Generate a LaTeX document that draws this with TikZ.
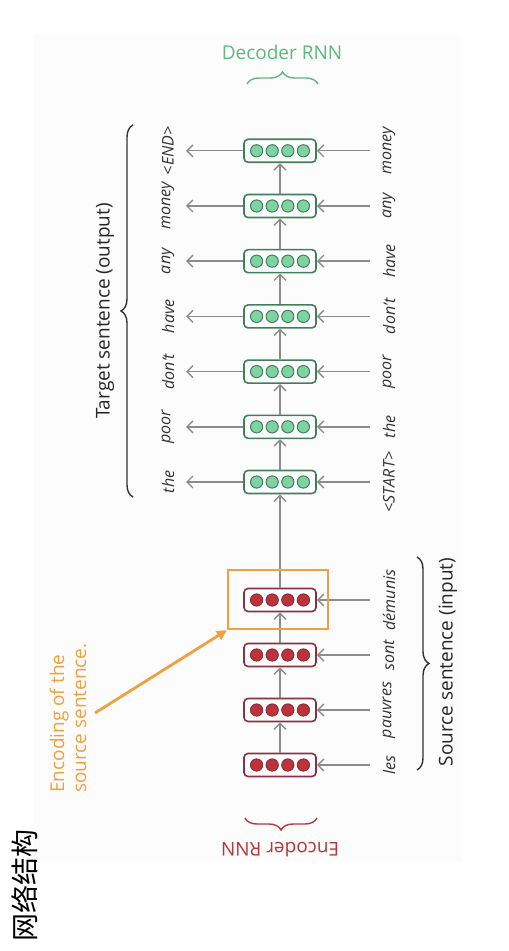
\documentclass[tikz,border=0pt]{standalone}
\usepackage{fontspec}
\setmainfont{Open Sans}
\newfontfamily\cjk{Noto Sans CJK SC}
\usetikzlibrary{decorations.pathreplacing, arrows.meta}
\definecolor{encred}{HTML}{BE3238}
\definecolor{encline}{HTML}{8A3040}
\definecolor{decgreen}{HTML}{7ED3A0}
\definecolor{decline}{HTML}{3F7F5C}
\definecolor{dectext}{HTML}{5DB97C}
\definecolor{enctext}{HTML}{B3383C}
\definecolor{hlorange}{HTML}{F0A040}
\definecolor{flow}{HTML}{8C8C8C}
\begin{document}
\begin{tikzpicture}[x=0.5pt, y=-0.5pt,
  cell/.style={draw, rounded corners=2pt, line width=0.8pt, fill=white, minimum width=36pt, minimum height=11.5pt, inner sep=0pt},
  flowarrow/.style={draw=flow, line width=0.7pt, -{Straight Barb[length=3pt, width=6pt]}},
  word/.style={rotate=90, font=\fontsize{8}{9}\selectfont\itshape, text=black!80},
  title/.style={font=\fontsize{9.5}{11}\selectfont},
  bracket/.style={decorate, decoration={brace, amplitude=6pt}, line width=0.7pt}]
  \useasboundingbox (0,0) rectangle (508,951);
  \fill [black!1.2] (33,35) rectangle (462,862);
  % encoder cells
  \foreach \i in {1,...,4}
    \node [cell, draw=encline] (e\i) at (280, {765-55*(\i-1)}) {};
  % decoder cells
  \foreach \i in {1,...,7}
    \node [cell, draw=decline] (d\i) at (280, {482-55.2*(\i-1)}) {};
  \foreach \i in {1,...,4}
    \foreach \k in {-1.5,-0.5,0.5,1.5}
      \fill [encred, draw=encline, line width=0.5pt] ([xshift=\k*7.8pt]e\i.center) circle [radius=3.05pt];
  \foreach \i in {1,...,7}
    \foreach \k in {-1.5,-0.5,0.5,1.5}
      \fill [decgreen, draw=decline, line width=0.5pt] ([xshift=\k*7.8pt]d\i.center) circle [radius=3.05pt];
  % recurrent connections
  \draw [flowarrow] (e1) -- (e2);
  \draw [flowarrow] (e2) -- (e3);
  \draw [flowarrow] (e3) -- (e4);
  \draw [flowarrow] (e4) -- (d1);
  \foreach \i [evaluate=\i as \j using int(\i+1)] in {1,...,6}
    \draw [flowarrow] (d\i) -- (d\j);
  % inputs and outputs
  \foreach \i in {1,...,4} {
    \coordinate (ein\i) at (370, {765-55*(\i-1)});
    \draw [flowarrow] (ein\i) -- (e\i);
  }
  \foreach \i in {1,...,7} {
    \coordinate (din\i) at (370, {482-55.2*(\i-1)});
    \coordinate (dout\i) at (186, {482-55.2*(\i-1)});
    \draw [flowarrow] (din\i) -- (d\i);
    \draw [flowarrow] (d\i) -- (dout\i);
  }
  \foreach \w [count=\i] in {les, pauvres, sont, démunis}
    \node [word] (src\i) at (389, {765-55*(\i-1)}) {\w};
  \foreach \w [count=\i] in {<START>, the, poor, don’t, have, any, money}
    \node [word] (tin\i) at (389, {482-55.2*(\i-1)}) {\w};
  \foreach \w [count=\i] in {the, poor, don’t, have, any, money, <END>}
    \node [word] (tout\i) at (168, {482-55.2*(\i-1)}) {\w};
  % encoding highlight
  \node [draw=hlorange, line width=1.2pt, minimum width=50pt, minimum height=29.5pt, inner sep=0pt] (enc) at (278, 599.5) {};
  \node [rotate=90, title, text=hlorange, align=left] (enclabel) at (68, 718) {Encoding of the\\source sentence.};
  \coordinate (encstart) at (95, 713);
  \draw [hlorange, line width=1.4pt, -{Triangle[length=5pt, width=5pt]}] (encstart) -- (enc.south west);
  % braces and titles
  \draw [bracket, black!80] (133,497) -- (133,125);
  \node [rotate=90, title, text=black!85] (tgt) at (105, 311) {Target sentence (output)};
  \draw [bracket, black!80] (417,557) -- (417,770);
  \node [rotate=90, title, text=black!85] (src) at (448, 662) {Source sentence (input)};
  \draw [bracket, dectext] (247,84) -- (318,84);
  \node [title, text=dectext] (dec) at (282, 52) {Decoder RNN};
  \draw [bracket, enctext] (317,818) -- (245,818);
  \node [rotate=180, title, text=enctext] (encname) at (280, 850) {Encoder RNN};
  \node [rotate=90, font=\cjk\fontsize{14}{14}\selectfont] (net) at (25, 885) {网络结构};
\end{tikzpicture}
\end{document}
